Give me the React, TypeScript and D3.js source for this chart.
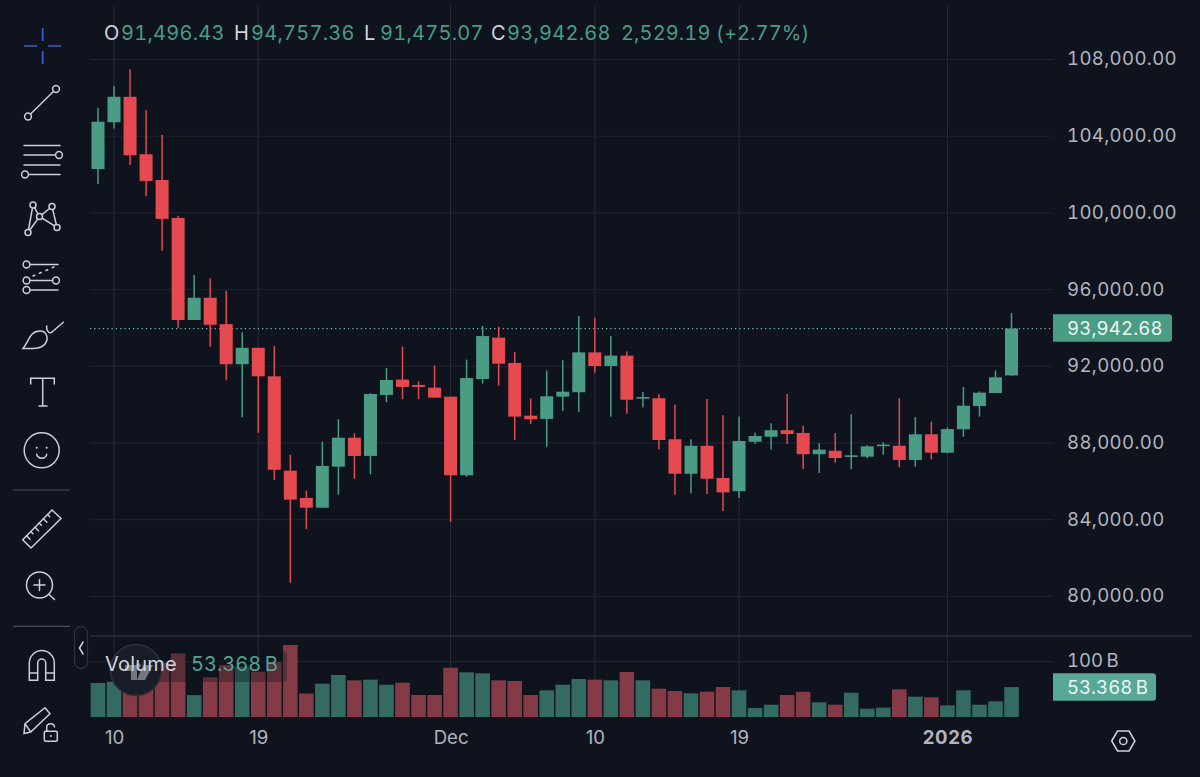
import { useEffect, useRef } from "react";
import * as d3 from "d3";

const opens = [102260, 104700, 106030, 103030, 101690, 99710, 94390, 95550, 94170, 92080, 92940, 91450, 86530, 85110, 84600, 86740, 88250, 87300, 90480, 91280, 91000, 90860, 90390, 86290, 91310, 93470, 92150, 89400, 89230, 90390, 90620, 92700, 91990, 92530, 90290, 90310, 88170, 86370, 87830, 86150, 85460, 88040, 88300, 88640, 88500, 87390, 87570, 87260, 87260, 87820, 87830, 87090, 88430, 87470, 88690, 89900, 90580, 91496.43];
const highs = [105460, 106590, 107460, 105340, 104040, 99830, 96740, 96560, 95920, 93750, 92940, 93030, 87360, 85490, 88040, 89210, 88480, 90570, 91890, 93000, 91190, 92010, 90390, 92320, 94080, 94040, 92720, 90290, 91750, 92290, 94600, 94510, 93550, 92740, 90630, 90510, 89970, 88170, 90270, 89420, 89350, 88510, 89000, 90530, 88880, 87960, 88500, 89470, 87860, 88010, 90310, 89320, 89090, 88790, 90900, 90670, 91750, 94757.36];
const lows = [101480, 104370, 102470, 100840, 98000, 93990, 94390, 93000, 91240, 89320, 88510, 86050, 80690, 83490, 84600, 85280, 86110, 86340, 90100, 90270, 90270, 90340, 83860, 86220, 91070, 90980, 88130, 88970, 87780, 89640, 89590, 91640, 89350, 89500, 89820, 87630, 85280, 85350, 85320, 84430, 85110, 87920, 87630, 87920, 86620, 86410, 86950, 86620, 87180, 87360, 86710, 86740, 87120, 87440, 88300, 89350, 90580, 91475.07];
const closes = [104730, 106030, 102980, 101640, 99660, 94390, 95550, 94140, 92080, 92940, 91450, 86580, 85020, 84600, 86780, 88250, 87300, 90530, 91260, 90900, 90900, 90340, 86290, 91360, 93550, 92110, 89350, 89210, 90410, 90650, 92700, 91990, 92530, 90230, 90370, 88130, 86370, 87830, 86110, 85400, 88080, 88340, 88640, 88440, 87390, 87630, 87190, 87330, 87800, 87890, 87090, 88430, 87470, 88700, 89920, 90600, 91400, 93942.68];
// billions
const volumes = [60.7, 63, 78, 96, 97, 113.7, 39, 71, 93, 90, 81, 98, 128.6, 42, 59.5, 75, 65.5, 66.7, 57.7, 61.3, 39.3, 39.3, 88, 79.8, 78, 65.5, 64.3, 39.3, 47.6, 57.7, 67.9, 66.7, 65.5, 80.4, 65.5, 50.6, 46.4, 42.3, 45.2, 53.6, 47.6, 16, 22, 39.3, 45, 26.2, 22, 43.5, 14.9, 16.7, 49.4, 36.3, 35.1, 20.8, 47.6, 22, 28, 53.368];

const firstDay = new Date(Date.UTC(2025, 10, 9));
const lastDay = new Date(Date.UTC(2026, 0, 5));
const days = d3.utcDay.range(firstDay, d3.utcDay.offset(lastDay, 1));

const priceTicks = [80000, 84000, 88000, 92000, 96000, 100000, 104000, 108000];
const volumeTicks = [100];
const dateTicks = [
  new Date(Date.UTC(2025, 10, 10)),
  new Date(Date.UTC(2025, 10, 19)),
  new Date(Date.UTC(2025, 11, 1)),
  new Date(Date.UTC(2025, 11, 10)),
  new Date(Date.UTC(2025, 11, 19)),
  new Date(Date.UTC(2026, 0, 1)),
];
const dateLabels = ["10", "19", "Dec", "10", "19", "2026"];
const ohlcLetters = ["O", "H", "L", "C"];
const changeText = "2,529.19 (+2.77%)";

const BG = "#0e131e";
const UP = "#4a9c85";
const DOWN = "#e54a50";
const VOL_UP = "#336b62";
const VOL_DOWN = "#853b45";
const TEXT = "#b2b5be";
const FONT = "Inter, sans-serif";
const ICON = "#ccd0d8";

// sets font size, tabular digits and tracking on any text selection
const type = (sel: any, size: number, spacing: number) =>
  sel
    .style("font", `${size}px ${FONT}`)
    .style("font-variant-numeric", "tabular-nums")
    .style("letter-spacing", `${spacing}px`);

const Toolbar = () => {
  const line = { stroke: ICON, strokeWidth: 1.5, fill: "none", strokeLinecap: "round" as const };
  const dot = (cx: number, cy: number, r = 3.4) => <circle cx={cx} cy={cy} r={r} {...line} fill={BG} />;
  return (
    <g>
      {/* crosshair */}
      <path d="M42.7 28V41M42.7 51V64M24 46H37M48 46H61" stroke="#3a5bd9" strokeWidth={1.7} fill="none" />
      {/* trend line */}
      <path d="M28 116.5L56 89" {...line} />
      {dot(56, 89)}
      {dot(28, 116.5)}
      {/* fib lines */}
      <path d="M24 145.5H60M24 155H56M24 165H60M28 174.5H60" {...line} />
      {dot(59, 155)}
      {dot(25, 174.5)}
      {/* pattern */}
      <path d="M28 232.5L33 205L39.5 216.5L52 206.5L57 227.5L39.5 216.5L28 232.5" {...line} />
      {dot(33, 205, 3)}
      {dot(52, 206.5, 3)}
      {dot(39.5, 216.5, 3)}
      {dot(57, 227.5, 3)}
      {dot(28, 232.5, 3)}
      {/* forecast */}
      <path d="M27 264.5H58M27 280.5H55M27 290H58" {...line} />
      <path d="M33 276L54 267" {...line} strokeDasharray="2 5" />
      {dot(26.5, 264.5)}
      {dot(26.5, 280.5)}
      {dot(56, 280.5)}
      {dot(26.5, 290)}
      {/* brush */}
      <path d="M23 348.5C29 341 30 331 40 331C47 331 49 339 45 344C41 349 34 348.5 23 348.5Z" {...line} />
      <path d="M46.7 326V328C47 332 50 334 52 332L63.3 322.3" {...line} />
      {/* text */}
      <path d="M30.7 384V378.3H54.3V384M42.7 378.3V406M39 406H47" {...line} />
      {/* smiley */}
      <circle cx={41.7} cy={450.3} r={17.5} {...line} />
      <circle cx={36.7} cy={447.7} r={1} fill={ICON} />
      <circle cx={46.7} cy={447.7} r={1} fill={ICON} />
      <path d="M36.7 454.3C38 459.5 45.5 459.5 46.7 454.3" {...line} />
      <path d="M13 490H70M13 626.3H70" stroke="#4a4e58" strokeWidth={1.2} />
      {/* ruler */}
      <path d="M22.7 539.7L52 510L61 518.5L31 548Z" {...line} />
      <path d="M26.5 535.8L30 539.3M30.8 531.5L33 533.7M35 527.3L38.5 530.8M39.2 523L41.4 525.2M43.4 518.8L46.9 522.3M47.6 514.5L49.8 516.7" {...line} />
      {/* zoom */}
      <circle cx={39.5} cy={585} r={13} {...line} />
      <path d="M34 585H45M39.5 579.5V590.5M49 594.5L54.5 599.5" {...line} />
      {/* magnet */}
      <path d="M29.3 680.3V663A12.5 12.5 0 0 1 54.3 663V680.3H45.7V663A4 4 0 0 0 37.7 663V680.3ZM29.3 673H37.7M45.7 673H54.3" {...line} />
      {/* pencil and lock */}
      <path d="M24 733.5L25 723.7L45 707.7L50 713.7L30.7 732ZM25 723.7L30.7 732" {...line} />
      <rect x={44.3} y={731.3} width={13} height={10} rx={1.5} {...line} />
      <path d="M46.7 731V727.5C46.7 722.5 54 722.5 54.5 727" {...line} />
      <circle cx={50.8} cy={736} r={1} fill={ICON} />
      {/* collapse handle */}
      <rect x={74.5} y={626.5} width={13} height={42} rx={6.5} fill={BG} stroke="#2b303b" strokeWidth={1.3} />
      <path d="M83 642L79.5 648L83 654" {...line} />
      {/* settings */}
      <path d="M1111.7 741L1117.5 731H1129.1L1134.9 741L1129.1 751H1117.5Z" {...line} stroke="#d0d3da" />
      <circle cx={1123.3} cy={741} r={3.6} {...line} stroke="#d0d3da" />
    </g>
  );
};

export default function App() {
  const svgRef = useRef<SVGSVGElement>(null);

  useEffect(() => {
    document.body.style.margin = "0";
    document.body.style.background = BG;

    const svg = d3.select(svgRef.current).select<SVGGElement>("g.chart");
    svg.selectAll("*").remove();

    const x = d3.scaleUtc().domain([firstDay, lastDay]).range([98, 1011.5]);
    const y = d3.scaleLinear().domain([80000, 108000]).range([595.9, 59]);
    const yVol = d3.scaleLinear().domain([0, 100]).range([717, 661]);
    const left = 90;
    const right = 1053;

    // vertical grid
    svg
      .append("g")
      .selectAll("line")
      .data(dateTicks)
      .join("line")
      .attr("x1", (d) => x(d))
      .attr("x2", (d) => x(d))
      .attr("y1", 6)
      .attr("y2", 717)
      .attr("stroke", "#282d38")
      .attr("stroke-width", 1);

    // price axis with its grid lines
    const yAxis = d3
      .axisRight(y)
      .tickValues(priceTicks)
      .tickFormat(d3.format(",.2f") as any)
      .tickSizeInner(-(right - left))
      .tickSizeOuter(0)
      .tickPadding(14);
    const yg = svg.append("g").attr("transform", `translate(${right},0)`).call(yAxis);
    yg.select(".domain").remove();
    yg.selectAll(".tick line").attr("stroke", "#1e2430");
    type(yg.selectAll(".tick text").attr("fill", TEXT), 18.6, 0.35);

    // volume axis
    const volAxis = d3
      .axisRight(yVol)
      .tickValues(volumeTicks)
      .tickFormat((d) => `${d}\u2009B`)
      .tickSizeInner(-(right - left))
      .tickSizeOuter(0)
      .tickPadding(14);
    const vg = svg.append("g").attr("transform", `translate(${right},0)`).call(volAxis);
    vg.select(".domain").remove();
    vg.selectAll(".tick line").attr("stroke", "#1e2430");
    type(vg.selectAll(".tick text").attr("fill", TEXT), 18.6, 0);

    // pane separator
    svg
      .append("line")
      .attr("x1", left)
      .attr("x2", 1192)
      .attr("y1", 636)
      .attr("y2", 636)
      .attr("stroke", "#2a2f3a")
      .attr("stroke-width", 1.3);

    // date axis
    const xAxis = d3
      .axisBottom(x)
      .tickValues(dateTicks)
      .tickFormat((_, i) => dateLabels[i])
      .tickSize(0)
      .tickPadding(0);
    const xg = svg.append("g").attr("transform", "translate(0,734)").call(xAxis);
    xg.select(".domain").remove();
    xg.selectAll("text")
      .attr("fill", TEXT)
      .style("font", `18.6px ${FONT}`)
      .attr("dy", "0.55em")
      .filter((_, i) => dateLabels[i] === "2026")
      .style("font-weight", "700")
      .attr("letter-spacing", "0.6");

    // volume bars
    svg
      .append("g")
      .selectAll("rect")
      .data(days)
      .join("rect")
      .attr("x", (d) => x(d) - 7.3)
      .attr("width", 14.6)
      .attr("y", (_, i) => yVol(volumes[i]))
      .attr("height", (_, i) => yVol(0) - yVol(volumes[i]))
      .attr("fill", (_, i) => (closes[i] >= opens[i] ? VOL_UP : VOL_DOWN));

    // last price line
    svg
      .append("line")
      .attr("x1", left)
      .attr("x2", right)
      .attr("y1", y(closes[closes.length - 1]))
      .attr("y2", y(closes[closes.length - 1]))
      .attr("stroke", "#6fb5a2")
      .attr("stroke-width", 1.2)
      .attr("stroke-dasharray", "1.3 3");

    // candles
    const candles = svg.append("g").selectAll("g").data(days).join("g");
    candles
      .append("line")
      .attr("x1", (d) => x(d))
      .attr("x2", (d) => x(d))
      .attr("y1", (_, i) => y(highs[i]))
      .attr("y2", (_, i) => y(lows[i]))
      .attr("stroke-width", 1.5)
      .attr("stroke", (_, i) => (closes[i] >= opens[i] ? UP : DOWN));
    candles
      .append("rect")
      .attr("x", (d) => x(d) - 6.5)
      .attr("width", 13)
      .attr("y", (_, i) => y(Math.max(opens[i], closes[i])))
      .attr("height", (_, i) => Math.max(1.6, Math.abs(y(opens[i]) - y(closes[i]))))
      .attr("fill", (_, i) => (closes[i] >= opens[i] ? UP : DOWN));

    // price and volume tags
    const last = closes.length - 1;
    const tag = (cy: number, w: number, fill: string, label: string, spacing: number) => {
      svg
        .append("path")
        .attr(
          "d",
          `M${right} ${cy - 13.7}H${right + w - 3}a3 3 0 0 1 3 3V${cy + 10.7}a3 3 0 0 1 -3 3H${right}Z`
        )
        .attr("fill", fill);
      type(
        svg
          .append("text")
          .attr("x", right + 14)
          .attr("y", cy)
          .attr("dy", "0.36em")
          .attr("fill", "#eef5f3"),
        18.6,
        spacing
      ).text(label);
    };
    tag(y(closes[last]) - 0.5, 119, UP, d3.format(",.2f")(closes[last]), 0.15);
    tag(687, 103, "#57a897", `${d3.format(".3f")(volumes[last])}\u2009B`, 0);

    // volume legend backdrop, logo, legend text
    svg
      .append("rect")
      .attr("x", 92)
      .attr("y", 651)
      .attr("width", 195)
      .attr("height", 31)
      .attr("rx", 3)
      .attr("fill", BG)
      .attr("fill-opacity", 0.35);
    svg
      .append("circle")
      .attr("cx", 136)
      .attr("cy", 670)
      .attr("r", 25.5)
      .attr("fill", "#191d28")
      .attr("stroke", "#2c303b")
      .attr("stroke-width", 1.6);
    svg
      .append("path")
      .attr("d", "M125 665H137V680H131V671H125ZM143 665H153L145 680H137Z")
      .attr("fill", "#74777f");
    svg.append("circle").attr("cx", 138.5).attr("cy", 665.5).attr("r", 2.3).attr("fill", "#74777f");
    type(svg.append("text").attr("x", 105).attr("y", 671).attr("fill", "#d1d4dc"), 20, 0.2).text("Volume");
    type(svg.append("text").attr("x", 191).attr("y", 671).attr("fill", "#4fa592"), 20, 0).text(
      `${d3.format(".3f")(volumes[last])}\u2009B`
    );

    // OHLC header
    const ohlc = [opens[last], highs[last], lows[last], closes[last]];
    const header = svg.append("g");
    ohlcLetters.forEach((letter, i) => {
      const startX = [104, 234, 364, 491][i];
      type(header.append("text").attr("x", startX).attr("y", 40).attr("fill", "#d1d4dc"), 20, 0.3).text(letter);
      type(
        header.append("text").attr("x", [121, 251, 380, 507][i]).attr("y", 40).attr("fill", UP),
        20,
        0.25
      ).text(d3.format(",.2f")(ohlc[i]));
    });
    type(header.append("text").attr("x", 621).attr("y", 40).attr("fill", UP), 20, 0.12).text(changeText);
  }, []);

  return (
    <svg ref={svgRef} width={1200} height={777} style={{ position: "absolute", left: 0, top: 0, display: "block", background: BG }}>
      <g className="chart" />
      <Toolbar />
    </svg>
  );
}
